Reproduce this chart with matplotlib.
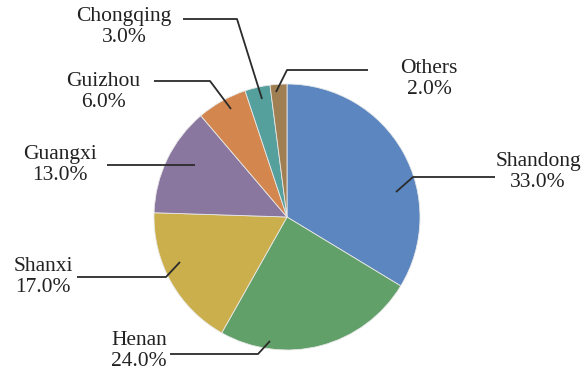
import matplotlib
matplotlib.use("Agg")
from matplotlib import pyplot as plt

provinces = ["Shandong", "Henan", "Shanxi", "Guangxi", "Guizhou", "Chongqing", "Others"]
shares = [33.0, 24.0, 17.0, 13.0, 6.0, 3.0, 2.0]
colors = ["#5B86BF", "#62A06A", "#CBAF4C", "#8A77A0", "#D3874F", "#559F9C", "#A07F52"]

# Label centres and leader lines, in pixel coordinates (y grows downwards).
label_pos = {
    "Shandong": (538, 172),
    "Henan": (139, 351),
    "Shanxi": (43, 277),
    "Guangxi": (60, 165),
    "Guizhou": (103, 92),
    "Chongqing": (124, 27),
    "Others": (429, 79),
}
leaders = {
    "Shandong": [(396, 192), (413, 177), (495, 177)],
    "Henan": [(270, 341), (258, 354), (170, 354)],
    "Shanxi": [(180, 262), (166, 277), (77, 277)],
    "Guangxi": [(195, 165), (107, 165)],
    "Guizhou": [(231, 109), (210, 81), (154, 81)],
    "Chongqing": [(262, 99), (237, 19), (183, 19)],
    "Others": [(276, 92), (287, 70), (368, 70)],
}

plt.rcParams["font.family"] = ["Liberation Serif", "DejaVu Serif"]

fig = plt.figure(figsize=(5.84, 3.76), dpi=100)
ax = fig.add_axes([0, 0, 1, 1])

# y axis is flipped, so counterclockwise in data space reads clockwise on screen
ax.pie(shares, colors=colors, center=(287, 217), radius=133,
       startangle=-90, counterclock=True,
       wedgeprops=dict(edgecolor="#E8E8E8", linewidth=0.6))

for name, share in zip(provinces, shares):
    pts = leaders[name]
    ax.plot([p[0] for p in pts], [p[1] for p in pts], color="#2B2B2B", lw=1.3,
            solid_capstyle="butt")
    x, y = label_pos[name]
    ax.text(x, y, "{}\n{:.1f}%".format(name, share), ha="center", va="center",
            fontsize=15.5, color="#222222", linespacing=1.12)

ax.set_xlim(0, 584)
ax.set_ylim(376, 0)
ax.set_aspect("equal")
ax.axis("off")

fig.savefig("out.png", dpi=100)
